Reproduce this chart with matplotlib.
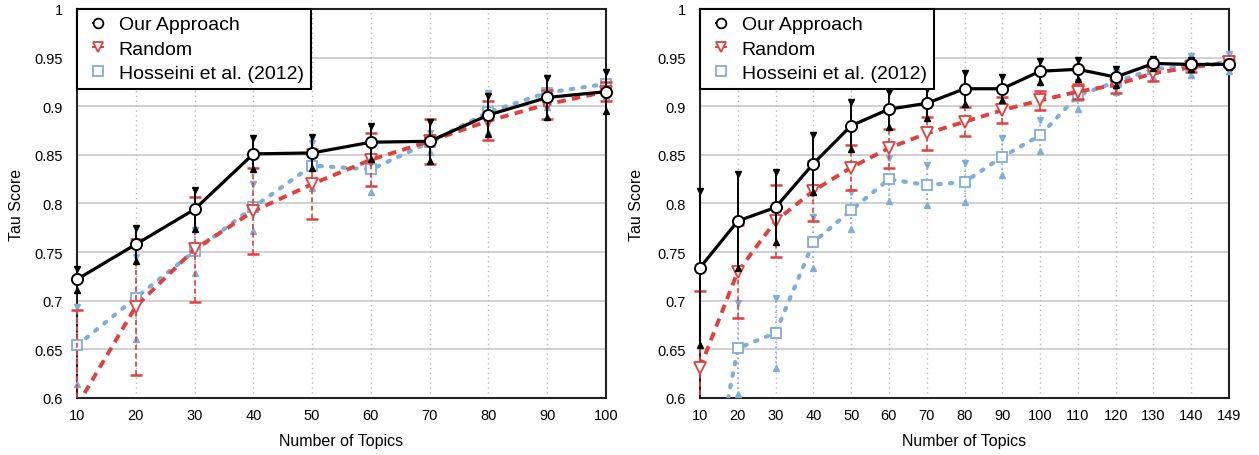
import matplotlib
matplotlib.use("Agg")
import matplotlib.pyplot as plt
from matplotlib.patches import Rectangle
from matplotlib.legend_handler import HandlerTuple
import numpy as np

plt.rcParams['font.family'] = ['Liberation Sans', 'DejaVu Sans']

# ---------------- data ----------------
left_labels = ['10', '20', '30', '40', '50', '60', '70', '80', '90', '100']
left_ours = [0.722, 0.758, 0.794, 0.851, 0.852, 0.863, 0.864, 0.891, 0.909, 0.915]
left_ours_err = [0.011, 0.017, 0.020, 0.016, 0.016, 0.017, 0.020, 0.020, 0.020, 0.020]
left_random = [0.592, 0.694, 0.753, 0.792, 0.820, 0.845, 0.864, 0.885, 0.902, 0.915]
left_random_err = [0.098, 0.070, 0.054, 0.044, 0.036, 0.027, 0.023, 0.020, 0.015, 0.010]
left_hoss = [0.654, 0.703, 0.751, 0.796, 0.839, 0.835, 0.863, 0.894, 0.914, 0.923]
left_hoss_err = [0.040, 0.042, 0.022, 0.024, 0.023, 0.023, 0.010, 0.020, 0.015, 0.012]

right_labels = ['10', '20', '30', '40', '50', '60', '70', '80', '90', '100',
                '110', '120', '130', '140', '149']
right_ours = [0.734, 0.782, 0.796, 0.841, 0.880, 0.897, 0.903, 0.918, 0.918, 0.936,
              0.938, 0.930, 0.944, 0.943, 0.943]
right_ours_err = [0.079, 0.048, 0.036, 0.029, 0.024, 0.018, 0.015, 0.016, 0.012, 0.011,
                  0.010, 0.008, 0.005, 0.005, 0.003]
right_random = [0.631, 0.730, 0.782, 0.813, 0.837, 0.857, 0.872, 0.884, 0.896, 0.906,
                0.915, 0.922, 0.934, 0.940, 0.945]
right_random_err = [0.079, 0.048, 0.037, 0.031, 0.023, 0.020, 0.017, 0.015, 0.013, 0.010,
                    0.008, 0.008, 0.008, 0.005, 0.004]
right_hoss = [0.450, 0.651, 0.667, 0.760, 0.793, 0.825, 0.819, 0.822, 0.848, 0.870,
              0.911, 0.925, 0.938, 0.942, 0.945]
right_hoss_err = [0.050, 0.047, 0.036, 0.026, 0.019, 0.022, 0.021, 0.020, 0.019, 0.016,
                  0.014, 0.010, 0.008, 0.010, 0.009]

y_ticks = [0.6, 0.65, 0.7, 0.75, 0.8, 0.85, 0.9, 0.95, 1.0]
y_tick_labels = ['0.6', '0.65', '0.7', '0.75', '0.8', '0.85', '0.9', '0.95', '1']

series_names = ['Our Approach', 'Random', 'Hosseini et al. (2012)']

BLACK = '#000000'
RED = '#e2403a'
BLUE = '#7eaedb'

fig = plt.figure(figsize=(12.59, 4.56), dpi=100)
ax_l = fig.add_axes([77 / 1259, 57 / 456, 529 / 1259, 389 / 456])
ax_r = fig.add_axes([700 / 1259, 57 / 456, 529 / 1259, 389 / 456])


def draw(ax, labels, ours, ours_err, rnd, rnd_err, hoss, hoss_err, ylab_x):
    x = np.arange(len(labels))
    clip = Rectangle((-0.03, 0.0), 1.06, 1.05, transform=ax.transAxes)

    def add(a):
        for it in (a if isinstance(a, (list, tuple)) else [a]):
            it.set_clip_path(clip)

    # Hosseini (blue, dotted)
    h = np.array(hoss); he = np.array(hoss_err)
    add(ax.vlines(x, h - he, h + he, colors=BLUE, linestyles=(0, (1, 2)), lw=1.2, zorder=3))
    add(ax.plot(x, h + he, ls='none', marker='v', ms=4.5, color=BLUE, zorder=3))
    add(ax.plot(x, h - he, ls='none', marker='^', ms=4.5, color=BLUE, zorder=3))
    add(ax.plot(x, h, ls=(0, (0.6, 2.2)), lw=3, color=BLUE, dash_capstyle='round',
                marker='s', ms=7.5, mfc='white', mec=BLUE, mew=1.3, zorder=4))

    # Random (red, dashed)
    r = np.array(rnd); re = np.array(rnd_err)
    add(ax.vlines(x, r - re, r + re, colors=RED, linestyles=(0, (3, 2)), lw=1.2, zorder=5))
    add(ax.plot(x, r + re, ls='none', marker='_', ms=9, mew=1.8, color=RED, zorder=5))
    add(ax.plot(x, r - re, ls='none', marker='_', ms=9, mew=1.8, color=RED, zorder=5))
    add(ax.plot(x, r, ls=(0, (2.2, 1.6)), lw=2.8, color=RED,
                marker='v', ms=8, mfc='white', mec=RED, mew=1.3, zorder=6))

    # Our approach (black, solid)
    o = np.array(ours); oe = np.array(ours_err)
    add(ax.vlines(x, o - oe, o + oe, colors=BLACK, lw=1.4, zorder=7))
    add(ax.plot(x, o + oe, ls='none', marker='v', ms=5, color=BLACK, zorder=7))
    add(ax.plot(x, o - oe, ls='none', marker='^', ms=5, color=BLACK, zorder=7))
    add(ax.plot(x, o, ls='-', lw=2.3, color=BLACK,
                marker='o', ms=8, mfc='white', mec=BLACK, mew=1.4, zorder=8))

    ax.set_xlim(0, len(labels) - 1)
    ax.set_ylim(0.6, 1.0)
    ax.set_xticks(x)
    ax.set_xticklabels(labels, fontsize=10.5)
    ax.set_yticks(y_ticks)
    ax.set_yticklabels(y_tick_labels, fontsize=10.5)
    ax.tick_params(axis='both', length=0)
    ax.tick_params(axis='y', pad=10)
    ax.tick_params(axis='x', pad=7)

    for yy in y_ticks[1:-1]:
        ax.axhline(yy, color='#c8c8c8', lw=1.2, zorder=1)
    for xx in x[1:-1]:
        ax.axvline(xx, color='#b8b8b8', lw=1.0, ls=(0, (1, 2.5)), zorder=1)

    for s in ax.spines.values():
        s.set_linewidth(1.5)
        s.set_color('#222222')

    ax.set_xlabel('Number of Topics', fontsize=11.5)
    ax.set_ylabel('Tau Score', fontsize=11.5)
    ax.xaxis.set_label_coords(0.5, -0.09)
    ax.yaxis.set_label_coords(ylab_x, 0.5)

    def handle(color, marker, ms):
        stub = plt.Line2D([], [], ls='none', marker='_', ms=9, mew=1.4, color=color)
        mk = plt.Line2D([], [], ls='none', marker=marker, ms=ms, mfc='white',
                        mec=color, mew=1.3)
        return (stub, mk)

    hl = [handle(BLACK, 'o', 7.0), handle(RED, 'v', 7.0), handle(BLUE, 's', 6.5)]
    leg = ax.legend(hl, series_names, loc='upper left', fontsize=14.0,
                    handler_map={tuple: HandlerTuple(ndivide=1, pad=0)},
                    handlelength=1.5, handletextpad=0.3, borderaxespad=0,
                    borderpad=0.35, labelspacing=0.34, fancybox=False,
                    framealpha=1, edgecolor='black')
    leg.get_frame().set_linewidth(1.5)
    leg.set_zorder(20)


draw(ax_l, left_labels, left_ours, left_ours_err, left_random, left_random_err,
     left_hoss, left_hoss_err, -0.100)
draw(ax_r, right_labels, right_ours, right_ours_err, right_random, right_random_err,
     right_hoss, right_hoss_err, -0.106)

fig.savefig('out.png', dpi=100)
